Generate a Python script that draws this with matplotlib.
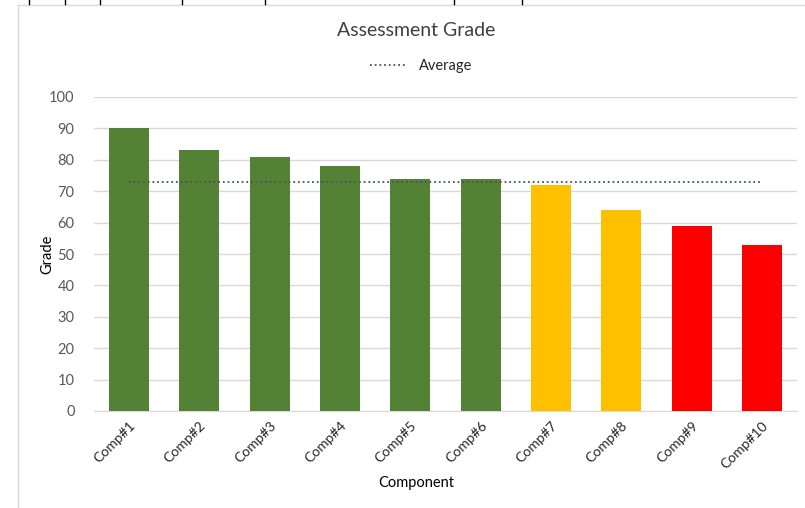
import matplotlib
matplotlib.use("Agg")
import matplotlib.pyplot as plt
from matplotlib.lines import Line2D

# data
components = ["Comp#1", "Comp#2", "Comp#3", "Comp#4", "Comp#5",
              "Comp#6", "Comp#7", "Comp#8", "Comp#9", "Comp#10"]
grades = [90, 83, 81, 78, 74, 74, 72, 64, 59, 53]
bar_colors = ["#548235"] * 6 + ["#FFC000"] * 2 + ["#FF0000"] * 2
average = [72.8] * len(components)

plt.rcParams["font.family"] = ["Lato", "DejaVu Sans"]
GRAY = "#595959"

fig = plt.figure(figsize=(8.05, 5.08), dpi=100)
ax = fig.add_axes([94 / 805, 1 - 411 / 508, 703 / 805, 314 / 508])

x = list(range(len(components)))
ax.bar(x, grades, width=0.57, color=bar_colors, zorder=3)
ax.plot(x, average, color="#44546A", linestyle=(0, (1, 1.6)), lw=1.3,
        zorder=4, label="Average")

ax.set_xlim(-0.5, len(components) - 0.5)
ax.set_ylim(0, 100)
ax.set_yticks(range(0, 101, 10))
ax.yaxis.grid(True, color="#D9D9D9", lw=1, zorder=0)
ax.tick_params(axis="y", length=0, labelsize=10.5, colors=GRAY, pad=14)
ax.tick_params(axis="x", length=0, pad=6)
ax.set_xticks(x)
ax.set_xticklabels(components, rotation=45, ha="right", va="top",
                   rotation_mode="anchor", fontsize=10, color="#262626")
for s in ["top", "right", "left"]:
    ax.spines[s].set_visible(False)
ax.spines["bottom"].set_color("#D9D9D9")
ax.set_ylabel("Grade", fontsize=10.5, color="black", va="center")
ax.set_xlabel("Component", fontsize=10.5, color="black", va="center")
ax.yaxis.set_label_coords((47 - 94) / 703, 0.5)
ax.xaxis.set_label_coords((416 - 94) / 703, (411 - 483) / 314)

fig.text(416 / 805, 1 - 30 / 508, "Assessment Grade", ha="center", va="center",
         fontsize=14, color="#404040")
handles, labels = ax.get_legend_handles_labels()
fig.legend(handles, labels, loc="center", bbox_to_anchor=(421 / 805, 1 - 66 / 508),
           frameon=False, fontsize=10.5, handlelength=2.6, labelcolor="#262626")

# chart frame and sheet cell marks
fig.add_artist(Line2D([18 / 805, 18 / 805], [0, 1 - 5 / 508], color="#D9D9D9", lw=1))
fig.add_artist(Line2D([18 / 805, 1], [1 - 5 / 508, 1 - 5 / 508], color="#D9D9D9", lw=1))
for px in [29, 65, 100, 182, 265, 454, 522]:
    fig.add_artist(Line2D([px / 805, px / 805], [1, 1 - 4 / 508], color="black", lw=1))

fig.savefig("out.png", dpi=100)
